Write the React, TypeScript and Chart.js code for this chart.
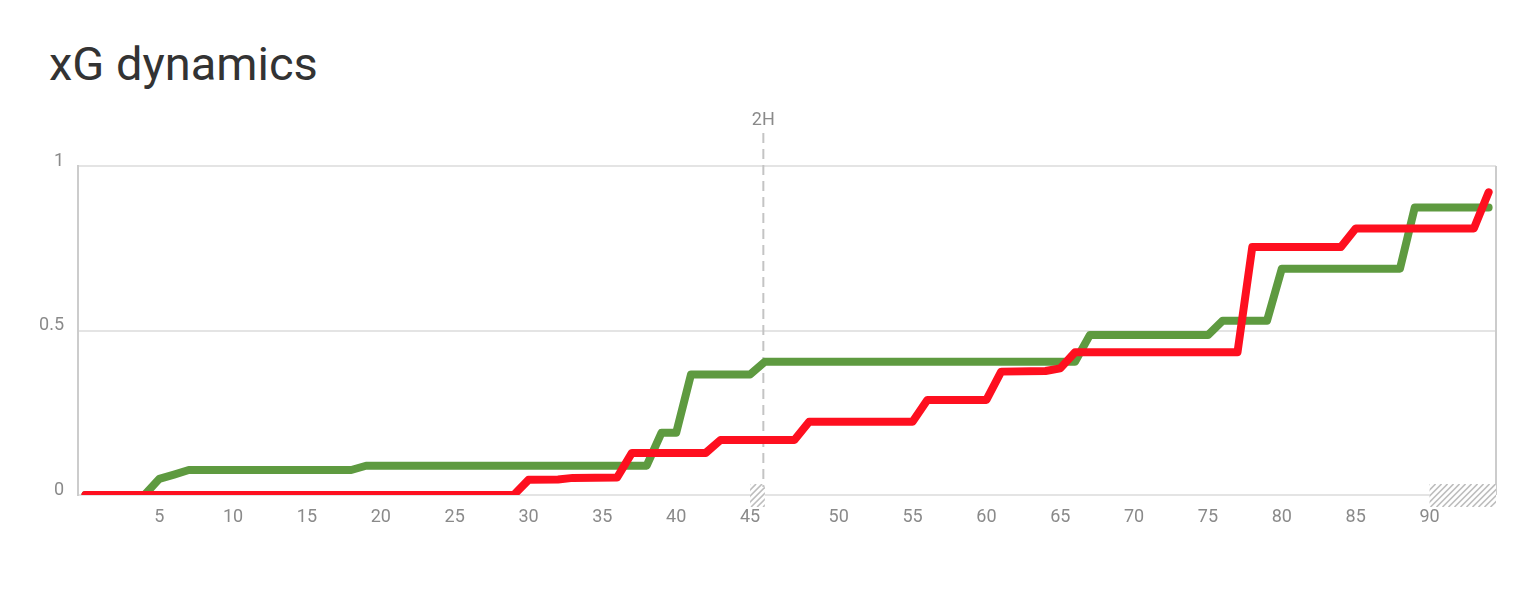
import React, { useEffect, useRef } from "react";
import { Chart, registerables } from "chart.js";

Chart.register(...registerables);

const TITLE = "xG dynamics";
const HALF_LABEL = "2H";

// minute index (first-half stoppage shifts the second half by one step)
const greenMinutes = [0, 4, 5, 6, 7, 18, 19, 38, 39, 40, 41, 45, 46, 67, 68, 76, 77, 80, 81, 89, 90, 95];
const greenValues = [0, 0, 0.049, 0.062, 0.076, 0.076, 0.089, 0.089, 0.189, 0.189, 0.366, 0.366, 0.405, 0.405, 0.486, 0.486, 0.53, 0.53, 0.688, 0.688, 0.874, 0.874];

const redMinutes = [0, 29, 30, 32, 33, 36, 37, 42, 43, 48, 49, 56, 57, 61, 62, 65, 66, 67, 78, 79, 85, 86, 94, 95];
const redValues = [0, 0, 0.046, 0.047, 0.052, 0.053, 0.128, 0.128, 0.167, 0.167, 0.223, 0.223, 0.289, 0.289, 0.375, 0.377, 0.385, 0.434, 0.434, 0.754, 0.754, 0.81, 0.81, 0.92];

const xTickPositions = [5, 10, 15, 20, 25, 30, 35, 40, 45, 51, 56, 61, 66, 71, 76, 81, 86, 91];
const xTickLabels = ["5", "10", "15", "20", "25", "30", "35", "40", "45", "50", "55", "60", "65", "70", "75", "80", "85", "90"];

const yTickValues = [0, 0.5, 1];
const yTickLabels = ["0", "0.5", "1"];

const secondHalfStart = 46;
const stoppageStarts = [45, 91];
const stoppageEnds = [46, 95.5];

const X_MIN = -0.5;
const X_MAX = 95.5;

const GREEN = "#5e9a40";
const RED = "#fe0f1f";
const GRID = "#e4e4e4";
const AXIS = "#cccccc";
const LABEL = "#8a8a8a";

const overlayPlugin = {
  id: "xgOverlay",
  beforeDatasetsDraw(chart: any) {
    const { ctx, chartArea, scales } = chart;
    const xs = scales.x;
    const ys = scales.y;
    const y0 = ys.getPixelForValue(0);
    ctx.save();

    // right border
    ctx.strokeStyle = AXIS;
    ctx.lineWidth = 2;
    ctx.beginPath();
    ctx.moveTo(chartArea.right, chartArea.top);
    ctx.lineTo(chartArea.right, chartArea.bottom);
    ctx.stroke();

    // hatched stoppage zones
    for (let i = 0; i < stoppageStarts.length; i++) {
      const xa = xs.getPixelForValue(stoppageStarts[i]);
      const xb = Math.min(xs.getPixelForValue(stoppageEnds[i]), chartArea.right);
      const top = y0 - 11;
      const bottom = y0 + 12;
      ctx.save();
      ctx.beginPath();
      ctx.rect(xa, top, xb - xa, bottom - top);
      ctx.clip();
      ctx.fillStyle = "rgba(255,255,255,1)";
      ctx.fillRect(xa, top, xb - xa, bottom - top);
      ctx.strokeStyle = "#bdbdbd";
      ctx.lineWidth = 1.6;
      const h = bottom - top;
      for (let s = xa - h; s < xb + h; s += 6) {
        ctx.beginPath();
        ctx.moveTo(s, bottom);
        ctx.lineTo(s + h, top);
        ctx.stroke();
      }
      ctx.restore();
    }

    // second half dashed marker
    const xh = xs.getPixelForValue(secondHalfStart) - 1.5;
    ctx.strokeStyle = "#c4c4c4";
    ctx.lineWidth = 2;
    ctx.setLineDash([10, 6]);
    ctx.beginPath();
    ctx.moveTo(xh, 133);
    ctx.lineTo(xh, y0 - 8);
    ctx.stroke();
    ctx.setLineDash([]);

    ctx.fillStyle = LABEL;
    ctx.font = "18px Roboto";
    ctx.textAlign = "center";
    ctx.textBaseline = "middle";
    ctx.fillText(HALF_LABEL, xh, 120);
    ctx.restore();
  },
};

export default function App() {
  const canvasRef = useRef<HTMLCanvasElement | null>(null);

  useEffect(() => {
    const canvas = canvasRef.current;
    if (!canvas) return;
    const chart = new Chart(canvas, {
      type: "line",
      data: {
        datasets: [
          {
            label: "Away",
            data: redMinutes.map((m, i) => ({ x: m, y: redValues[i] })),
            borderColor: RED,
            backgroundColor: RED,
            borderWidth: 8,
            borderCapStyle: "round",
            borderJoinStyle: "round",
            pointRadius: 0,
            pointHoverRadius: 0,
            tension: 0,
            fill: false,
          },
          {
            label: "Home",
            data: greenMinutes.map((m, i) => ({ x: m, y: greenValues[i] })),
            borderColor: GREEN,
            backgroundColor: GREEN,
            borderWidth: 8,
            borderCapStyle: "round",
            borderJoinStyle: "round",
            pointRadius: 0,
            pointHoverRadius: 0,
            tension: 0,
            fill: false,
          },
        ],
      },
      options: {
        responsive: false,
        animation: false,
        devicePixelRatio: 1,
        layout: { padding: { top: 166, right: 36, bottom: 50, left: 0 } },
        plugins: {
          legend: { display: false },
          title: { display: false },
          tooltip: { enabled: false },
        },
        scales: {
          x: {
            type: "linear",
            min: X_MIN,
            max: X_MAX,
            grid: { display: false, drawTicks: false },
            border: { display: false },
            afterBuildTicks: (scale: any) => {
              scale.ticks = xTickPositions.map((v) => ({ value: v }));
            },
            afterFit: (scale: any) => {
              scale.height = 45;
            },
            ticks: {
              autoSkip: false,
              maxRotation: 0,
              padding: 12,
              color: LABEL,
              font: { family: "Roboto", size: 18 },
              callback: (value: any) => {
                const i = xTickPositions.indexOf(Number(value));
                return i >= 0 ? xTickLabels[i] : "";
              },
            },
          },
          y: {
            type: "linear",
            min: 0,
            max: 1,
            grid: { color: GRID, lineWidth: 2, drawTicks: false },
            border: { display: true, color: AXIS, width: 2 },
            afterBuildTicks: (scale: any) => {
              scale.ticks = yTickValues.map((v) => ({ value: v }));
            },
            afterFit: (scale: any) => {
              scale.width = 78;
            },
            ticks: {
              padding: 14,
              labelOffset: -5,
              color: LABEL,
              font: { family: "Roboto", size: 18 },
              callback: (value: any) => {
                const i = yTickValues.indexOf(Number(value));
                return i >= 0 ? yTickLabels[i] : "";
              },
            },
          },
        },
      },
      plugins: [overlayPlugin],
    } as any);
    return () => chart.destroy();
  }, []);

  return (
    <div style={{ position: "absolute", left: 0, top: 0, width: 1532, height: 590, background: "#fff" }}>
      <div
        style={{
          position: "absolute",
          left: 49,
          top: 40,
          fontFamily: "Roboto",
          fontSize: 47,
          lineHeight: "47px",
          color: "#333333",
          whiteSpace: "nowrap",
        }}
      >
        {TITLE}
      </div>
      <canvas ref={canvasRef} width={1532} height={590} style={{ position: "absolute", left: 0, top: 0 }} />
    </div>
  );
}
